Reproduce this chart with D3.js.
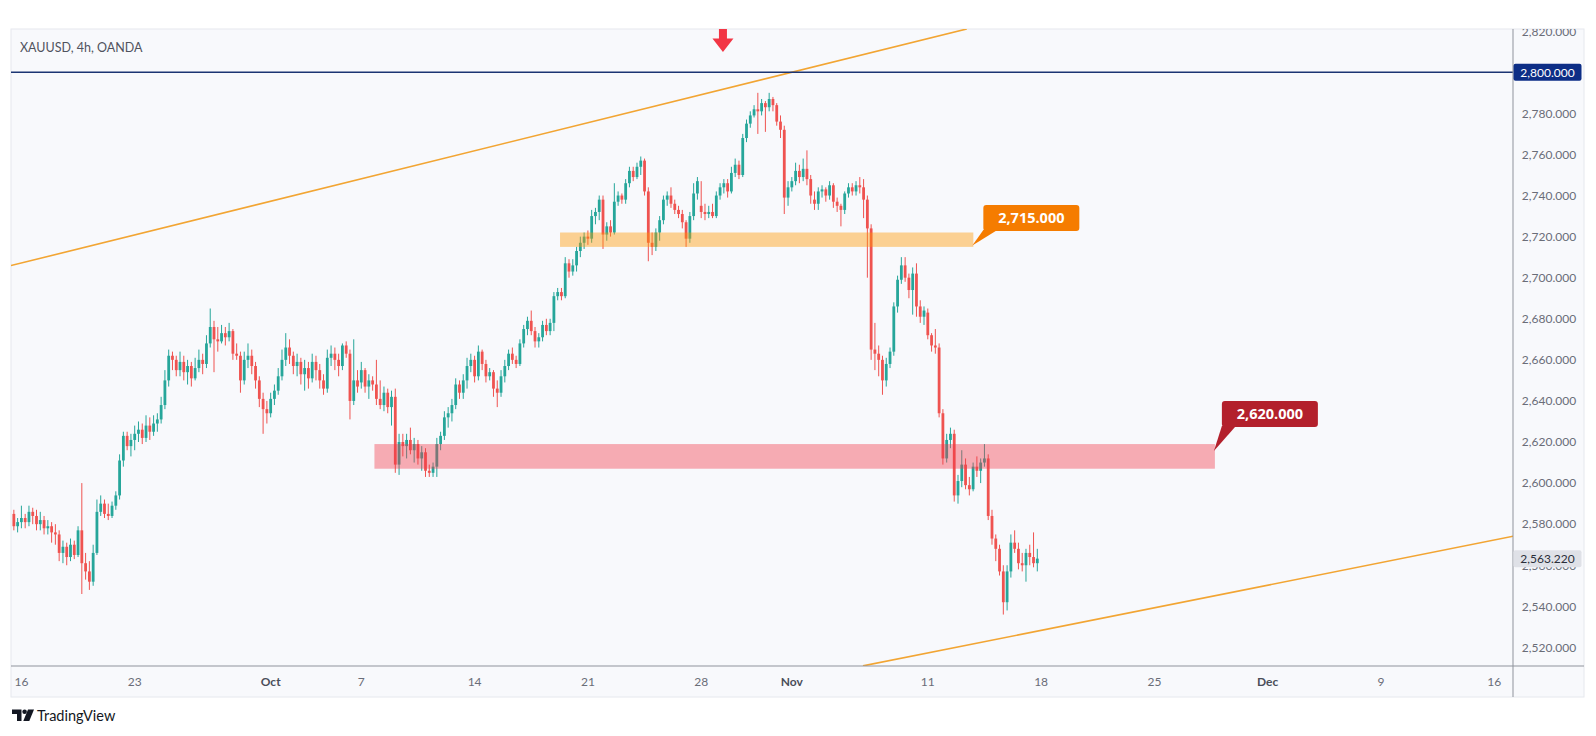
<!DOCTYPE html>
<html><head><meta charset="utf-8">
<script src="https://cdn.jsdelivr.net/npm/d3@7"></script>
<style>
html,body{margin:0;padding:0;background:#ffffff;}
svg{display:block;}
</style></head>
<body>
<svg id="chart" width="1596" height="736"></svg>
<script>
// ---------- DATA (4h candles, [open, high, low, close]) ----------
const titleText = "XAUUSD, 4h, OANDA";
const wkSep13 = [[2585,2587,2577,2579],[2579,2583,2576,2581]];
const wkSep16 = [
[2581,2589,2578,2583],[2583,2585,2578,2581],[2581,2589,2579,2586],[2586,2588,2580,2584],[2584,2587,2577,2580],[2580,2586,2577,2582],
[2582,2584,2575,2578],[2578,2582,2575,2579],[2579,2581,2571,2576],[2576,2580,2570,2575],[2575,2577,2562,2566],[2566,2572,2561,2569],
[2569,2571,2560,2564],[2564,2573,2562,2570],[2570,2572,2563,2565],[2565,2579,2564,2577],[2577,2600,2546,2561],[2561,2566,2553,2557],
[2557,2562,2548,2552],[2552,2570,2550,2566],[2566,2592,2565,2586],[2586,2594,2584,2590],[2590,2592,2583,2585],[2585,2590,2582,2584],
[2584,2591,2583,2589],[2589,2596,2587,2594],[2594,2614,2592,2611],[2611,2625,2608,2623],[2623,2625,2616,2618],[2618,2624,2613,2621]];
const wkSep23 = [
[2621,2628,2616,2624],[2624,2630,2620,2626],[2626,2629,2619,2622],[2622,2633,2620,2628],[2628,2632,2621,2625],[2625,2633,2623,2629],
[2629,2634,2625,2631],[2631,2642,2629,2638],[2638,2655,2636,2650],[2650,2665,2647,2662],[2662,2664,2655,2660],[2660,2662,2652,2655],
[2655,2664,2652,2659],[2659,2662,2650,2654],[2654,2660,2648,2657],[2657,2659,2647,2651],[2651,2661,2650,2656],[2656,2665,2654,2660],
[2660,2663,2653,2658],[2658,2672,2656,2668],[2668,2685,2666,2676],[2676,2679,2654,2670],[2670,2676,2664,2669],[2669,2677,2668,2673],
[2673,2676,2667,2671],[2671,2678,2669,2674],[2674,2675,2660,2663],[2663,2668,2660,2662],[2662,2664,2644,2650],[2650,2664,2648,2660]];
const wkSep30 = [
[2660,2668,2656,2662],[2662,2665,2653,2657],[2657,2659,2646,2650],[2650,2652,2637,2641],[2641,2644,2624,2636],[2636,2640,2629,2634],
[2634,2644,2632,2641],[2641,2648,2638,2645],[2645,2656,2643,2652],[2652,2665,2650,2660],[2660,2673,2657,2666],[2666,2670,2658,2662],
[2662,2664,2653,2657],[2657,2663,2652,2659],[2659,2661,2648,2653],[2653,2660,2645,2656],[2656,2659,2646,2651],[2651,2663,2649,2659],
[2659,2662,2650,2655],[2655,2658,2646,2650],[2650,2653,2643,2646],[2646,2665,2644,2661],[2661,2667,2657,2663],[2663,2666,2655,2660],
[2660,2663,2652,2657],[2657,2668,2655,2667],[2667,2669,2661,2663],[2663,2665,2631,2640],[2640,2670,2638,2650],[2650,2655,2644,2647]];
const wkOct07 = [
[2649,2659,2646,2655],[2655,2656,2644,2647],[2647,2653,2641,2650],[2650,2652,2645,2648],[2648,2660,2638,2641],[2641,2650,2636,2638],
[2638,2647,2635,2644],[2644,2646,2634,2637],[2637,2645,2628,2642],[2642,2646,2605,2609],[2609,2624,2604,2620],[2620,2624,2613,2618],
[2618,2624,2612,2621],[2621,2627,2614,2616],[2616,2622,2610,2619],[2619,2621,2609,2612],[2612,2618,2606,2615],[2615,2617,2603,2606],
[2606,2609,2603,2605],[2605,2610,2603,2608],[2608,2622,2603,2619],[2619,2625,2616,2623],[2623,2635,2621,2632],[2632,2637,2627,2634],
[2634,2641,2630,2638],[2638,2651,2636,2648],[2648,2650,2641,2644],[2644,2653,2641,2650],[2650,2661,2646,2657],[2657,2663,2654,2660]];
const wkOct14 = [
[2660,2662,2649,2652],[2652,2667,2650,2664],[2664,2665,2655,2658],[2658,2660,2649,2652],[2652,2656,2650,2654],[2654,2655,2642,2646],
[2646,2650,2637,2644],[2644,2655,2642,2652],[2652,2660,2649,2657],[2657,2665,2655,2663],[2663,2666,2658,2660],[2660,2662,2656,2658],
[2658,2670,2657,2668],[2668,2677,2666,2675],[2675,2681,2672,2679],[2679,2684,2672,2674],[2674,2676,2666,2669],[2669,2673,2666,2671],
[2671,2679,2669,2677],[2677,2680,2672,2674],[2674,2680,2672,2678],[2678,2693,2674,2691],[2691,2695,2689,2693],[2693,2695,2689,2691],
[2691,2710,2690,2707],[2707,2709,2700,2703],[2703,2709,2701,2706],[2706,2715,2703,2713],[2713,2720,2710,2717],[2717,2722,2714,2720]];
const wkOct21 = [
[2720,2723,2716,2719],[2719,2733,2717,2730],[2730,2734,2726,2732],[2732,2740,2728,2738],[2738,2740,2714,2721],[2721,2727,2718,2725],
[2725,2728,2720,2722],[2722,2746,2721,2737],[2737,2742,2735,2740],[2740,2741,2736,2738],[2738,2748,2736,2746],[2746,2754,2744,2752],
[2752,2754,2747,2749],[2749,2756,2748,2754],[2754,2759,2750,2757],[2757,2758,2740,2742],[2742,2744,2708,2717],[2717,2722,2711,2715],
[2715,2724,2713,2722],[2722,2730,2718,2728],[2728,2740,2726,2738],[2738,2742,2735,2740],[2740,2744,2734,2736],[2736,2738,2731,2733],
[2733,2735,2729,2731],[2731,2733,2724,2727],[2727,2728,2715,2719],[2719,2732,2717,2730],[2730,2746,2728,2741],[2741,2749,2738,2747]];
const wkOct28 = [
[2735,2747,2729,2732],[2732,2736,2728,2731],[2731,2735,2729,2732],[2732,2736,2729,2730],[2730,2742,2729,2740],[2740,2746,2738,2744],
[2744,2748,2741,2746],[2746,2748,2739,2742],[2742,2754,2741,2751],[2751,2758,2749,2755],[2755,2757,2748,2750],[2750,2770,2749,2768],
[2768,2777,2766,2775],[2775,2781,2773,2779],[2779,2784,2778,2782],[2782,2790,2770,2781],[2781,2787,2779,2785],[2785,2786,2771,2783],
[2783,2790,2781,2787],[2787,2788,2781,2784],[2784,2785,2774,2776],[2776,2779,2768,2772],[2772,2774,2731,2739],[2739,2747,2735,2744],
[2744,2749,2742,2747],[2747,2756,2745,2752],[2752,2755,2746,2749],[2749,2758,2747,2753],[2753,2762,2745,2748],[2748,2750,2736,2740]];
const wkNov04 = [
[2738,2742,2733,2736],[2736,2744,2733,2742],[2742,2745,2739,2743],[2743,2744,2737,2740],[2740,2747,2738,2745],[2745,2746,2734,2737],
[2737,2739,2732,2735],[2735,2736,2725,2733],[2733,2742,2731,2741],[2741,2746,2739,2744],[2744,2746,2740,2742],[2742,2747,2740,2745],
[2745,2749,2741,2744],[2744,2748,2729,2738],[2738,2740,2700,2724],[2724,2726,2660,2665],[2665,2678,2655,2663],[2663,2667,2652,2660],
[2660,2662,2643,2650],[2650,2661,2647,2658],[2658,2666,2656,2664],[2664,2688,2662,2686],[2686,2701,2683,2699],[2699,2710,2697,2706],
[2706,2710,2698,2700],[2700,2702,2690,2694],[2694,2705,2682,2702],[2702,2707,2681,2686],[2686,2689,2678,2681],[2681,2686,2677,2684]];
const wkNov11 = [
[2683,2685,2670,2672],[2672,2673,2664,2667],[2667,2675,2663,2666],[2666,2668,2632,2634],[2634,2636,2609,2612],[2612,2624,2610,2621],
[2621,2627,2617,2624],[2624,2626,2591,2594],[2594,2604,2590,2601],[2601,2616,2598,2609],[2609,2612,2597,2599],[2599,2603,2594,2597],
[2597,2610,2596,2608],[2608,2613,2603,2606],[2606,2612,2600,2610],[2610,2619,2608,2612],[2612,2614,2582,2584],[2584,2587,2570,2573],
[2573,2575,2562,2568],[2568,2570,2555,2557],[2557,2560,2536,2542],[2542,2560,2538,2557],[2557,2575,2554,2571],[2571,2577,2566,2568],
[2568,2571,2558,2561],[2561,2566,2557,2560],[2560,2568,2552,2566],[2566,2570,2560,2564],[2564,2576,2559,2561],[2561,2568,2557,2563.22]];
const weekBlocks = [wkSep13, wkSep16, wkSep23, wkSep30, wkOct07, wkOct14, wkOct21, wkOct28, wkNov04, wkNov11];
const blockFirstBar = [-2, 0, 30, 60, 90, 120, 150, 180, 210, 240]; // 6 bars per trading day
const barsPerDay = 6;

// x axis: trading-day index (Mon Sep 16 = 0)
const xTickDays   = [0, 5, 11, 15, 20, 25, 30, 34, 40, 45, 50, 55, 60, 65];
const xTickLabels = ["16","23","Oct","7","14","21","28","Nov","11","18","25","Dec","9","16"];
const xTickBold   = ["Oct","Nov","Dec"];
const priceTicks  = [2520,2540,2560,2580,2600,2620,2640,2660,2680,2700,2720,2740,2760,2780,2800,2820];

const resistance = 2800;
const lastPrice = 2563.22;
const orangeZone = {lo: 2715, hi: 2722, from: 23.77, to: 42.01, label: "2,715.000"};
const redZone    = {lo: 2607, hi: 2619, from: 15.58, to: 52.67, label: "2,620.000"};
const upperTrend = [[-0.46, 2705.9], [41.72, 2821.1]];
const lowerTrend = [[37.14, 2511.0], [65.83, 2574.1]];
const arrowDay = 30.96;

// ---------- LAYOUT ----------
const L = 11, R = 1513, T = 29, B = 666, AX_R = 1584, AX_B = 697;
const svg = d3.select("#chart");
const x = d3.scaleLinear().domain([-0.459, 65.826]).range([L, R]);
const y = d3.scaleLinear().domain([2510.95, 2821.08]).range([B, T]);
const UP = "#26a69a", DN = "#ef5350";
const FONT = "Lato, 'Noto Sans', sans-serif";

const defs = svg.append("defs");
defs.append("clipPath").attr("id","plotclip").append("rect").attr("x",L).attr("y",T).attr("width",R-L).attr("height",B-T);
defs.append("clipPath").attr("id","axclip").append("rect").attr("x",R).attr("y",T).attr("width",AX_R-R).attr("height",B-T);

// frame
svg.append("rect").attr("x",L).attr("y",T).attr("width",AX_R-L).attr("height",AX_B-T)
  .attr("fill","#f8f9fc").attr("stroke","#e6e8ee").attr("stroke-width",1);

const plot = svg.append("g").attr("clip-path","url(#plotclip)");

// candles
const candles = [];
weekBlocks.forEach((blk, bi) => blk.forEach((c, j) => candles.push({n: blockFirstBar[bi] + j, o:c[0], h:c[1], l:c[2], c:c[3]})));
const bw = 2.8;
const cg = plot.append("g");
cg.selectAll("line.wick").data(candles).join("line")
  .attr("x1", d => x(d.n / barsPerDay)).attr("x2", d => x(d.n / barsPerDay))
  .attr("y1", d => y(d.h)).attr("y2", d => y(d.l))
  .attr("stroke", d => d.c >= d.o ? UP : DN).attr("stroke-width", 1);
cg.selectAll("rect.body").data(candles).join("rect")
  .attr("x", d => x(d.n / barsPerDay) - bw/2).attr("width", bw)
  .attr("y", d => y(Math.max(d.o, d.c)))
  .attr("height", d => Math.max(1, Math.abs(y(d.o) - y(d.c))))
  .attr("fill", d => d.c >= d.o ? UP : DN);

// zones (drawn above candles, translucent)
plot.append("rect").attr("x", x(orangeZone.from)).attr("width", x(orangeZone.to)-x(orangeZone.from))
  .attr("y", y(orangeZone.hi)).attr("height", y(orangeZone.lo)-y(orangeZone.hi))
  .attr("fill","rgba(255,152,0,0.42)");
plot.append("rect").attr("x", x(redZone.from)).attr("width", x(redZone.to)-x(redZone.from))
  .attr("y", y(redZone.hi)).attr("height", y(redZone.lo)-y(redZone.hi))
  .attr("fill","rgba(242,54,69,0.40)");

// trend lines
const line = d3.line().x(d => x(d[0])).y(d => y(d[1]));
[upperTrend, lowerTrend].forEach(t => plot.append("path").attr("d", line(t))
  .attr("fill","none").attr("stroke","#f2a533").attr("stroke-width",1.6));

// resistance line
plot.append("line").attr("x1",L).attr("x2",R).attr("y1",y(resistance)).attr("y2",y(resistance))
  .attr("stroke","#1b3573").attr("stroke-width",1.6);

// arrow
const ax = x(arrowDay);
plot.append("path").attr("d", `M${ax-4},${T} L${ax+4},${T} L${ax+4},${T+9.5} L${ax+10.5},${T+9.5} L${ax},${T+23} L${ax-10.5},${T+9.5} L${ax-4},${T+9.5} Z`)
  .attr("fill","#f23645");

// callout labels
function callout(zone, color, boxTopOffset) {
  const ex = x(zone.to);
  const bx = ex + (color === "#f57c00" ? 10 : 7);
  const bh = 26, bwid = 96;
  const by = y(zone.hi) - boxTopOffset;
  const tipY = color === "#f57c00" ? y(zone.lo) - 1.5 : y(zone.hi) + 7;
  svg.append("path").attr("d", `M${bx},${by+bh-1} L${ex-1},${tipY} L${bx+14},${by+bh-1} Z`).attr("fill", color);
  svg.append("rect").attr("x",bx).attr("y",by).attr("width",bwid).attr("height",bh).attr("rx",3).attr("fill",color);
  svg.append("text").attr("x",bx+bwid/2).attr("y",by+bh/2+5).attr("text-anchor","middle")
    .attr("font-family","'Open Sans', Lato, sans-serif").attr("font-weight",700).attr("font-size",14.5)
    .attr("fill","#ffffff").text(zone.label);
}
callout(orangeZone, "#f57c00", 27.5);
callout(redZone, "#b3202c", 43);

// axes lines
svg.append("line").attr("x1",R).attr("x2",R).attr("y1",T).attr("y2",AX_B).attr("stroke","#8f939c").attr("stroke-width",1);
svg.append("line").attr("x1",L).attr("x2",AX_R).attr("y1",B).attr("y2",B).attr("stroke","#8f939c").attr("stroke-width",1);

// price axis
const yax = svg.append("g").attr("clip-path","url(#axclip)");
yax.selectAll("text.tick").data(priceTicks).join("text")
  .attr("x", 1549).attr("y", d => y(d) + 4.3).attr("text-anchor","middle")
  .attr("font-family",FONT).attr("font-size",12).attr("fill","#6a6d78")
  .text(d => d3.format(",.3f")(d));
// resistance price tag
yax.append("rect").attr("x",R+0.5).attr("y",y(resistance)-8.5).attr("width",68).attr("height",17).attr("rx",2).attr("fill","#0d2e86");
yax.append("text").attr("x",R+34.5).attr("y",y(resistance)+4.3).attr("text-anchor","middle")
  .attr("font-family",FONT).attr("font-size",12).attr("fill","#ffffff").text(d3.format(",.3f")(resistance));
// last price tag
yax.append("rect").attr("x",R+0.5).attr("y",y(lastPrice)-8.5).attr("width",68).attr("height",17).attr("rx",2).attr("fill","#dfe1e7");
yax.append("text").attr("x",R+34.5).attr("y",y(lastPrice)+4.3).attr("text-anchor","middle")
  .attr("font-family",FONT).attr("font-size",12).attr("fill","#2a2e39").text(d3.format(",.3f")(lastPrice));

// time axis
svg.append("g").selectAll("text").data(xTickDays).join("text")
  .attr("x", d => x(d)).attr("y", 686).attr("text-anchor","middle")
  .attr("font-family",FONT).attr("font-size",12)
  .attr("font-weight", (d,i) => xTickBold.includes(xTickLabels[i]) ? 700 : 400)
  .attr("fill", (d,i) => xTickBold.includes(xTickLabels[i]) ? "#4a4e59" : "#6a6d78")
  .text((d,i) => xTickLabels[i]);

// title
svg.append("text").attr("x",20).attr("y",52).attr("font-family",FONT).attr("font-size",12.5)
  .attr("fill","#50535e").text(titleText);

// TradingView logo
const lg = svg.append("g").attr("fill","#131722");
lg.append("path").attr("d","M12,709.5 H21.5 V721 H17 V714 H12 Z");
lg.append("circle").attr("cx",24.6).attr("cy",711.8).attr("r",2.3);
lg.append("path").attr("d","M28,709.5 H34 L29.3,721 H23.3 Z");
svg.append("text").attr("x",37).attr("y",720.5).attr("font-family",FONT).attr("font-size",14.5)
  .attr("fill","#131722").text("TradingView");
</script>
</body></html>
